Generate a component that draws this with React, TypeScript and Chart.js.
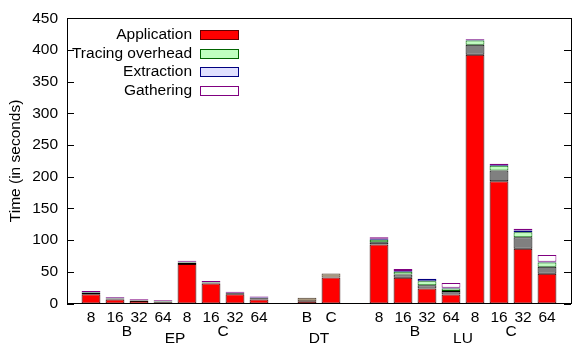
import React, { useEffect, useRef } from "react";
import { Chart, registerables } from "chart.js";

Chart.register(...registerables);

const FONT = "'Liberation Sans', Arial, Helvetica, sans-serif";
const FS = 15.5;

// x slots (padding slot at each end, blank slots between benchmarks)
const slotLabels = ["", "8", "16", "32", "64", "8", "16", "32", "64", "", "B", "C", "", "8", "16", "32", "64", "8", "16", "32", "64", ""];

// group labels: [text, position in slot index, row]
const groupTexts = ["B", "EP", "C", "DT", "B", "LU", "C"];
const groupPositions = [2.5, 4.5, 6.5, 10.5, 14.5, 16.5, 18.5];
const groupRows = [1, 2, 1, 2, 1, 2, 1];

const applicationValues = [null, 14.5, 6.5, 4, 2, 62.5, 31.5, 14.7, 6.5, null, 3.4, 41, null, 93, 40.6, 23.5, 14.3, 392.6, 192.8, 86.4, 46.8, null];
const otherValues = [null, 2.2, 1.3, 0.9, 0.9, 1.6, 1.3, 1.3, 1.6, null, 5.6, 6.5, null, 3.7, 5, 5.2, 5.4, 15.5, 17, 18.2, 11.3, null];
const tracingValues = [null, 0.8, 0.6, 0.4, 0.5, 0.8, 0.6, 0.6, 0.7, null, null, null, null, 4, 4.3, 6.3, 4, 6.7, 7.4, 7.7, 6.6, null];
const extractionValues = [null, 0.7, 0.5, 0.4, 0.5, 0.8, 0.6, 0.5, 0.7, null, null, null, null, 1.5, 1.5, 3.5, 1, 1.3, 1.5, 3, 1, null];
const gatheringValues = [null, 1.5, 1.2, 0.9, 1.2, 1.8, 1.4, 1.3, 1.6, null, null, null, null, 2.3, 3.1, 0.5, 7.5, 1.3, 2, 2.7, 11, null];

const yTicks = [0, 50, 100, 150, 200, 250, 300, 350, 400, 450];

const legendNames = ["Application", "Tracing overhead", "Extraction", "Gathering"];
const legendFills = ["#ff0000", "#c0ffc0", "#e0e0ff", "#ffffff"];
const legendBorders = ["#600000", "#006400", "#000080", "#800080"];

const otherFill = slotLabels.map((_, i) => (i === 10 || i === 11 ? "#a8987f" : "#808080"));
const otherBorder = slotLabels.map((_, i) => (i === 10 || i === 11 ? "#4a3a2a" : "#000000"));

const decorPlugin = {
  id: "decor",
  afterDraw(chart: any) {
    const { ctx, chartArea } = chart;
    const { left, right, top, bottom } = chartArea;
    const ys = chart.scales.y;
    const xs = chart.scales.x;
    ctx.save();
    ctx.strokeStyle = "#000";
    ctx.lineWidth = 1;
    // inward ticks
    yTicks.forEach((v) => {
      const py = Math.round(ys.getPixelForValue(v)) + 0.5;
      ctx.beginPath();
      ctx.moveTo(left, py);
      ctx.lineTo(left + 7, py);
      ctx.moveTo(right, py);
      ctx.lineTo(right - 7, py);
      ctx.stroke();
    });
    // frame
    ctx.strokeRect(Math.round(left) + 0.5, Math.round(top) + 0.5, Math.round(right - left), Math.round(bottom - top));
    // group labels
    ctx.fillStyle = "#000";
    ctx.font = `${FS}px ${FONT}`;
    ctx.textAlign = "center";
    ctx.textBaseline = "middle";
    groupTexts.forEach((t, i) => {
      const px = xs.getPixelForValue(groupPositions[i]);
      const py = groupRows[i] === 1 ? bottom + 28 : bottom + 35;
      ctx.fillText(t, px, py);
    });
    // legend
    legendNames.forEach((name, i) => {
      const cy = Math.round(top + 17 + i * 18.5);
      ctx.textAlign = "right";
      ctx.fillStyle = "#000";
      ctx.fillText(name, left + 125, cy);
      const bx = Math.round(left + 133) + 0.5;
      const by = cy - 4.5;
      ctx.fillStyle = legendFills[i];
      ctx.fillRect(bx, by, 38, 9);
      ctx.strokeStyle = legendBorders[i];
      ctx.lineWidth = 1;
      ctx.strokeRect(bx, by, 38, 9);
    });
    ctx.restore();
  },
};

export default function App() {
  const canvasRef = useRef<HTMLCanvasElement | null>(null);

  useEffect(() => {
    if (!canvasRef.current) return;
    Chart.defaults.font.family = FONT;
    const common = { borderWidth: 1, borderSkipped: false, categoryPercentage: 0.8, barPercentage: 0.98 };
    const chart = new Chart(canvasRef.current, {
      type: "bar",
      data: {
        labels: slotLabels,
        datasets: [
          { label: "Application", data: applicationValues, backgroundColor: "#ff0000", borderColor: "#2a0000", ...common },
          { label: "", data: otherValues, backgroundColor: otherFill, borderColor: otherBorder, ...common },
          { label: "Tracing overhead", data: tracingValues, backgroundColor: "#c0ffc0", borderColor: "#006400", ...common },
          { label: "Extraction", data: extractionValues, backgroundColor: "#e0e0ff", borderColor: "#000080", ...common },
          { label: "Gathering", data: gatheringValues, backgroundColor: "#ffffff", borderColor: "#800080", ...common },
        ] as any,
      },
      options: {
        animation: false,
        responsive: true,
        maintainAspectRatio: false,
        layout: { padding: { top: 13, right: 1, left: 0, bottom: 0 } },
        plugins: { legend: { display: false }, tooltip: { enabled: false } },
        scales: {
          x: {
            stacked: true,
            offset: false,
            grid: { display: false, drawTicks: false },
            border: { display: false },
            ticks: { autoSkip: false, maxRotation: 0, color: "#000", font: { size: FS, family: FONT }, padding: 5 },
            afterFit: (s: any) => { s.height = 41.5; },
          },
          y: {
            stacked: true,
            min: 0,
            max: 450,
            grid: { display: false, drawTicks: false },
            border: { display: false },
            ticks: { stepSize: 50, color: "#000", font: { size: FS, family: FONT }, padding: 9 },
            title: { display: true, text: "Time (in seconds)", color: "#000", font: { size: FS, family: FONT }, padding: { top: 6, bottom: 0 } },
            afterFit: (s: any) => { s.width = 67; },
          },
        },
      } as any,
      plugins: [decorPlugin],
    });
    return () => chart.destroy();
  }, []);

  return (
    <div style={{ position: "fixed", left: 0, top: 0, width: 576, height: 345, background: "#fff" }}>
      <canvas ref={canvasRef} />
    </div>
  );
}
